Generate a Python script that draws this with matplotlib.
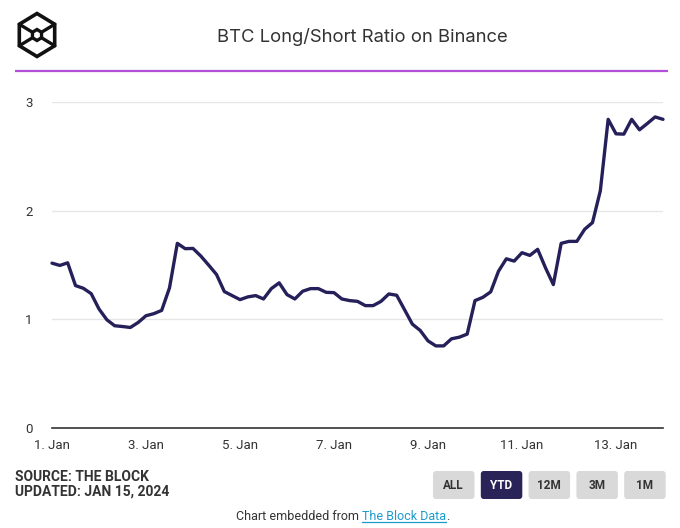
import numpy as np
import pandas as pd
import matplotlib
matplotlib.use("Agg")
import matplotlib.pyplot as plt
import matplotlib.dates as mdates
from matplotlib.patches import FancyBboxPatch, Polygon

# ---------------- data ----------------
title = "BTC Long/Short Ratio on Binance"
start = "2024-01-01 00:00"
freq = "4h"
ratio = [
    1.517, 1.496, 1.520, 1.311, 1.286, 1.237, 1.096, 0.997, 0.942, 0.935,
    0.926, 0.972, 1.034, 1.053, 1.083, 1.290, 1.699, 1.650, 1.652, 1.582,
    1.499, 1.413, 1.256, 1.219, 1.182, 1.207, 1.219, 1.188, 1.283, 1.336,
    1.228, 1.188, 1.259, 1.283, 1.283, 1.249, 1.246, 1.188, 1.173, 1.166,
    1.127, 1.127, 1.166, 1.234, 1.222, 1.090, 0.957, 0.899, 0.803, 0.757,
    0.757, 0.822, 0.837, 0.865, 1.173, 1.203, 1.253, 1.443, 1.557, 1.536,
    1.613, 1.588, 1.644, 1.474, 1.320, 1.699, 1.717, 1.717, 1.828, 1.890,
    2.182, 2.838, 2.705, 2.702, 2.838, 2.742, 2.800, 2.860, 2.838,
]
y_ticks = [0, 1, 2, 3]
x_tick_dates = ["2024-01-01", "2024-01-03", "2024-01-05", "2024-01-07",
                "2024-01-09", "2024-01-11", "2024-01-13"]
source_lines = ["SOURCE: THE BLOCK", "UPDATED: JAN 15, 2024"]
buttons = ["ALL", "YTD", "12M", "3M", "1M"]
active_button = "YTD"
footer_parts = ["Chart embedded from ", "The Block Data", "."]

dates = pd.date_range(start, periods=len(ratio), freq=freq)

# ---------------- style ----------------
W, H = 680, 528
NARROW = ["Liberation Sans Narrow", "Roboto", "DejaVu Sans"]
LINE_COLOR = "#26205a"
TEXT_COLOR = "#333333"

fig = plt.figure(figsize=(W / 100, H / 100), dpi=100)
fig.patch.set_facecolor("white")

def fx(px):
    return px / W

def fy(py):
    return 1 - py / H

# main axes: x 52..663, y 101.7..428.3
ax = fig.add_axes([fx(52), fy(428.3), fx(663) - fx(52), (428.3 - 101.7) / H])
ax.plot(dates, ratio, color=LINE_COLOR, lw=2.4, solid_joinstyle="round",
        solid_capstyle="round", clip_on=False, zorder=3)
ax.set_ylim(0, 3)
ax.set_xlim(dates[0], dates[-1])
ax.set_yticks(y_ticks)
ax.set_yticklabels([str(v) for v in y_ticks])
ax.set_xticks(pd.to_datetime(x_tick_dates))
ax.xaxis.set_major_formatter(mdates.DateFormatter("%-d. %b"))
ax.grid(axis="y", color="#e6e6e6", lw=1)
ax.set_axisbelow(True)
for s in ["top", "right", "left"]:
    ax.spines[s].set_visible(False)
ax.spines["bottom"].set_color("#333333")
ax.spines["bottom"].set_linewidth(1.2)
ax.tick_params(axis="y", length=0, pad=14, labelsize=9.5, labelcolor=TEXT_COLOR)
ax.tick_params(axis="x", length=0, pad=8, labelsize=9.5, labelcolor=TEXT_COLOR)
for lab in ax.get_xticklabels() + ax.get_yticklabels():
    lab.set_family(NARROW)

# overlay axes in pixel coordinates for decorations
ov = fig.add_axes([0, 0, 1, 1], zorder=-1)
ov.set_xlim(0, W)
ov.set_ylim(H, 0)
ov.axis("off")

# title
ov.text(362, 37, title, ha="center", va="center", fontsize=13.3,
        family=["Inter", "Roboto", "DejaVu Sans"], fontweight="normal",
        color=TEXT_COLOR)

# purple rule
ov.plot([15, 668], [70.7, 70.7], color="#b24fd8", lw=1.6, solid_capstyle="butt")

# logo: outer hexagon, inner hexagon and connecting edges
cx, cy = 37, 35
ang = np.deg2rad([90, 30, -30, -90, -150, 150])
R = 21.5
outer = np.c_[cx + R * np.cos(ang) * 0.95, cy - R * np.sin(ang)]
r = 5.5
inner = np.c_[cx + r * np.cos(ang) * 0.95, cy - r * np.sin(ang)]
ov.add_patch(Polygon(outer, closed=True, fill=False, ec="#111111", lw=2.6,
                     joinstyle="miter"))
ov.add_patch(Polygon(inner, closed=True, fill=False, ec="#111111", lw=2.4,
                     joinstyle="miter"))
for i in [1, 2, 4, 5]:
    ov.plot([outer[i, 0], inner[i, 0]], [outer[i, 1], inner[i, 1]],
            color="#111111", lw=2.4, solid_capstyle="round")

# source text
for i, t in enumerate(source_lines):
    ov.text(15, 477 + 15 * i, t, ha="left", va="center", fontsize=10,
            fontweight="bold", family=NARROW, color=TEXT_COLOR)

# buttons
bx0, bw, gap, by0, bh = 433, 41.5, 6.3, 471, 28
for i, b in enumerate(buttons):
    x0 = bx0 + i * (bw + gap)
    active = b == active_button
    fc = "#2a2358" if active else "#d9d9d9"
    tc = "white" if active else TEXT_COLOR
    ov.add_patch(FancyBboxPatch((x0, by0), bw, bh,
                                boxstyle="round,pad=0,rounding_size=3",
                                fc=fc, ec="none"))
    ov.text(x0 + bw / 2, by0 + bh / 2 + 0.5, b, ha="center", va="center",
            fontsize=8.5, fontweight="bold", family=NARROW, color=tc)

# footer with link
fig.canvas.draw()
renderer = fig.canvas.get_renderer()
fsize = 9.0
ffam = NARROW
tmp = [ov.text(0, 516, p, fontsize=fsize, family=ffam, va="center")
       for p in footer_parts]
widths = []
for t in tmp:
    bb = t.get_window_extent(renderer)
    widths.append(bb.width)
    t.remove()
total = sum(widths)
x = 342.5 - total / 2
colors = [TEXT_COLOR, "#1b9ccc", TEXT_COLOR]
for p, w, c in zip(footer_parts, widths, colors):
    ov.text(x, 516, p, fontsize=fsize, family=ffam, va="center", ha="left",
            color=c)
    if c != TEXT_COLOR:
        ov.plot([x, x + w], [522, 522], color=c, lw=0.9)
    x += w

fig.savefig("out.png", dpi=100, facecolor="white")
